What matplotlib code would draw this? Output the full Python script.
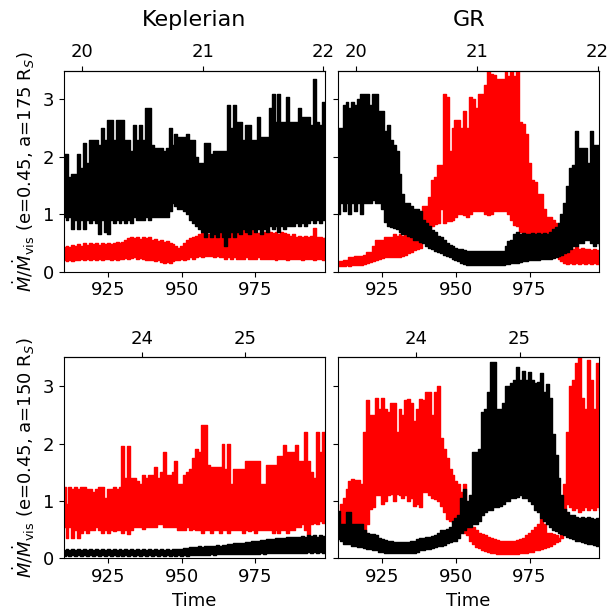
import numpy as np
import matplotlib
matplotlib.use('Agg')
import matplotlib.pyplot as plt

plt.rcParams['font.size'] = 13

# time grid of the samples (one lo/hi pair per unit)
time = np.arange(910, 1000)

# orbit number on the top axis: n0 + (t - t0) / period
orbit_175 = (20, 916.1, 41.0)
orbit_150 = (24, 936.5, 35.1)

# ---------------- Keplerian, a=175 ----------------
kep175_black_hi = [2.05, 2.05, 1.65, 1.7, 1.7, 2.05, 1.8, 2.25, 1.9, 2.3,
                   2.3, 2.3, 2.2, 2.5, 2.3, 2.65, 2.65, 2.3, 2.65, 2.65,
                   2.65, 2.3, 2.3, 2.1, 2.55, 2.3, 2.55, 2.3, 2.85, 2.85,
                   2.2, 2.15, 2.15, 2.15, 2.1, 2.15, 2.5, 2.2, 2.4, 2.35,
                   2.35, 2.35, 2.4, 2.3, 2.3, 2.0, 1.9, 1.9, 2.25, 2.25,
                   2.05, 2.1, 2.1, 2.1, 2.1, 2.1, 2.9, 2.5, 2.9, 2.6,
                   2.6, 2.3, 2.55, 2.55, 2.3, 2.3, 2.7, 2.35, 2.35, 2.35,
                   2.85, 3.1, 2.6, 3.1, 2.6, 2.6, 3.05, 2.6, 2.6, 2.6,
                   2.85, 2.7, 2.7, 2.7, 2.55, 3.35, 2.6, 2.55, 2.95, 2.95]
kep175_black_lo = [0.95, 0.9, 0.95, 0.75, 0.9, 0.75, 0.9, 0.75, 0.9, 0.85,
                   0.9, 0.85, 0.65, 0.9, 0.7, 0.65, 0.9, 0.85, 0.9, 0.85,
                   0.9, 0.85, 0.9, 0.85, 0.95, 0.9, 0.9, 0.9, 0.95, 0.9,
                   0.95, 0.95, 0.95, 0.95, 0.95, 0.95, 1.05, 1.2, 1.15, 1.1,
                   1.1, 1.05, 1.0, 0.9, 0.85, 0.8, 0.75, 0.7, 0.6, 0.7,
                   0.6, 0.65, 0.6, 0.7, 0.6, 0.45, 0.6, 0.7, 0.6, 0.7,
                   0.65, 0.75, 0.7, 0.65, 0.75, 0.7, 0.75, 0.65, 0.75, 0.7,
                   0.8, 0.75, 0.8, 0.7, 0.8, 0.75, 0.8, 0.8, 0.8, 0.85,
                   0.8, 0.85, 0.8, 0.85, 0.9, 0.85, 0.9, 0.85, 0.9, 0.9]
kep175_red_hi = [0.43, 0.45, 0.43, 0.47, 0.45, 0.48, 0.45, 0.5, 0.47, 0.5,
                 0.48, 0.5, 0.47, 0.5, 0.48, 0.5, 0.48, 0.5, 0.52, 0.5,
                 0.52, 0.55, 0.58, 0.6, 0.58, 0.6, 0.57, 0.6, 0.58, 0.6,
                 0.55, 0.57, 0.53, 0.55, 0.52, 0.53, 0.5, 0.48, 0.45, 0.42,
                 0.45, 0.5, 0.55, 0.58, 0.6, 0.62, 0.65, 0.67, 0.68, 0.66,
                 0.65, 0.68, 0.66, 0.7, 0.68, 0.7, 0.67, 0.7, 0.68, 0.72,
                 0.7, 0.72, 0.68, 0.7, 0.72, 0.7, 0.68, 0.72, 0.7, 0.72,
                 0.7, 0.68, 0.7, 0.65, 0.7, 0.68, 0.65, 0.62, 0.65, 0.6,
                 0.62, 0.6, 0.62, 0.6, 0.62, 0.77, 0.6, 0.6, 0.58, 0.6]
kep175_red_lo = [0.2, 0.18, 0.2, 0.18, 0.2, 0.2, 0.22, 0.2, 0.22, 0.2,
                 0.22, 0.2, 0.22, 0.2, 0.22, 0.22, 0.2, 0.22, 0.2, 0.22,
                 0.22, 0.24, 0.22, 0.24, 0.25, 0.22, 0.24, 0.22, 0.2, 0.2,
                 0.2, 0.18, 0.2, 0.17, 0.15, 0.17, 0.15, 0.18, 0.2, 0.2,
                 0.22, 0.2, 0.22, 0.25, 0.23, 0.25, 0.27, 0.25, 0.27, 0.28,
                 0.28, 0.25, 0.27, 0.25, 0.25, 0.23, 0.25, 0.23, 0.25, 0.22,
                 0.23, 0.22, 0.25, 0.22, 0.23, 0.22, 0.25, 0.22, 0.23, 0.22,
                 0.22, 0.23, 0.2, 0.22, 0.23, 0.22, 0.2, 0.22, 0.23, 0.22,
                 0.22, 0.2, 0.22, 0.23, 0.22, 0.2, 0.22, 0.22, 0.2, 0.22]

# ---------------- GR, a=175 ----------------
gr175_black_hi = [2.5, 2.5, 2.9, 2.95, 2.85, 2.95, 2.9, 3.0, 3.1, 3.1,
                  3.1, 2.9, 3.1, 3.1, 2.8, 2.8, 2.45, 2.55, 2.3, 2.2,
                  2.1, 1.7, 1.35, 1.2, 1.2, 1.15, 1.1, 1.1, 1.05, 0.9,
                  0.85, 0.8, 0.72, 0.7, 0.62, 0.6, 0.55, 0.5, 0.47, 0.45,
                  0.42, 0.4, 0.4, 0.38, 0.37, 0.36, 0.37, 0.36, 0.37, 0.36,
                  0.37, 0.36, 0.37, 0.36, 0.37, 0.36, 0.37, 0.45, 0.53, 0.55,
                  0.65, 0.7, 0.65, 0.68, 0.65, 0.65, 0.68, 0.65, 0.68, 0.65,
                  0.68, 0.65, 0.7, 0.75, 0.78, 0.85, 1.0, 1.2, 1.5, 1.8,
                  1.85, 2.45, 2.15, 2.15, 2.15, 1.9, 2.45, 2.2, 2.2, 2.0]
gr175_black_lo = [1.0, 1.2, 1.05, 1.2, 1.0, 1.2, 1.05, 1.2, 1.0, 1.2,
                  1.2, 1.2, 1.25, 1.2, 1.2, 1.1, 0.87, 0.8, 0.78, 0.76,
                  0.75, 0.7, 0.65, 0.65, 0.62, 0.6, 0.55, 0.55, 0.52, 0.5,
                  0.45, 0.42, 0.4, 0.37, 0.35, 0.33, 0.3, 0.27, 0.25, 0.22,
                  0.2, 0.18, 0.16, 0.14, 0.12, 0.12, 0.12, 0.12, 0.12, 0.12,
                  0.12, 0.12, 0.12, 0.12, 0.12, 0.12, 0.12, 0.13, 0.14, 0.15,
                  0.15, 0.16, 0.17, 0.18, 0.18, 0.2, 0.2, 0.2, 0.2, 0.22,
                  0.22, 0.22, 0.22, 0.24, 0.25, 0.28, 0.3, 0.32, 0.35, 0.4,
                  0.45, 0.45, 0.5, 0.5, 0.55, 0.55, 0.5, 0.45, 0.5, 0.45]
gr175_red_hi = [0.18, 0.18, 0.2, 0.2, 0.25, 0.26, 0.27, 0.27, 0.28, 0.3,
                0.35, 0.35, 0.45, 0.55, 0.55, 0.55, 0.6, 0.6, 0.6, 0.65,
                0.62, 0.65, 0.62, 0.65, 0.62, 0.6, 0.58, 0.55, 0.5, 1.15,
                1.15, 1.3, 1.6, 1.65, 1.85, 1.85, 3.1, 3.05, 2.1, 2.5,
                2.65, 2.65, 2.5, 2.8, 2.5, 3.05, 3.0, 2.85, 3.1, 3.1,
                3.25, 3.5, 3.45, 3.43, 3.36, 3.36, 3.36, 3.5, 3.4, 3.5,
                3.4, 3.5, 2.6, 2.58, 2.4, 1.9, 1.6, 1.57, 1.36, 1.36,
                1.1, 0.96, 0.95, 0.9, 0.85, 0.65, 0.5, 0.45, 0.47, 0.45,
                0.4, 0.45, 0.4, 0.42, 0.4, 0.4, 0.38, 0.4, 0.38, 0.37]
gr175_red_lo = [0.1, 0.1, 0.1, 0.12, 0.1, 0.12, 0.12, 0.12, 0.12, 0.14,
                0.15, 0.17, 0.18, 0.2, 0.22, 0.24, 0.26, 0.26, 0.26, 0.26,
                0.26, 0.26, 0.28, 0.3, 0.32, 0.35, 0.38, 0.4, 0.42, 0.55,
                0.7, 0.75, 0.8, 0.83, 0.85, 1.1, 0.85, 0.88, 0.88, 0.9,
                0.95, 1.0, 1.0, 0.98, 0.96, 1.0, 1.05, 1.05, 1.05, 1.05,
                1.0, 0.98, 1.0, 1.05, 1.05, 1.05, 1.05, 1.05, 1.0, 0.9,
                0.82, 0.8, 0.7, 0.65, 0.6, 0.6, 0.55, 0.55, 0.5, 0.5,
                0.5, 0.45, 0.4, 0.35, 0.3, 0.22, 0.18, 0.15, 0.14, 0.15,
                0.14, 0.15, 0.14, 0.15, 0.14, 0.15, 0.14, 0.15, 0.14, 0.15]

# ---------------- Keplerian, a=150 ----------------
kep150_black_hi = [0.15, 0.17, 0.15, 0.16, 0.15, 0.17, 0.15, 0.16, 0.15, 0.17,
                   0.15, 0.16, 0.15, 0.17, 0.15, 0.16, 0.15, 0.17, 0.15, 0.16,
                   0.15, 0.17, 0.15, 0.16, 0.15, 0.17, 0.15, 0.16, 0.15, 0.17,
                   0.15, 0.16, 0.15, 0.17, 0.15, 0.16, 0.15, 0.17, 0.16, 0.17,
                   0.17, 0.18, 0.18, 0.2, 0.2, 0.2, 0.21, 0.2, 0.22, 0.21,
                   0.22, 0.22, 0.23, 0.22, 0.24, 0.24, 0.25, 0.25, 0.26, 0.26,
                   0.27, 0.27, 0.28, 0.28, 0.3, 0.3, 0.31, 0.32, 0.32, 0.33,
                   0.33, 0.34, 0.35, 0.35, 0.36, 0.36, 0.37, 0.37, 0.38, 0.38,
                   0.38, 0.39, 0.38, 0.4, 0.39, 0.4, 0.38, 0.4, 0.39, 0.38]
kep150_black_lo = [0.05, 0.06, 0.05, 0.06, 0.05, 0.06, 0.05, 0.06, 0.05, 0.06,
                   0.05, 0.06, 0.05, 0.06, 0.05, 0.06, 0.05, 0.06, 0.05, 0.06,
                   0.05, 0.06, 0.05, 0.06, 0.05, 0.06, 0.05, 0.06, 0.05, 0.06,
                   0.05, 0.06, 0.05, 0.06, 0.05, 0.06, 0.05, 0.06, 0.05, 0.06,
                   0.05, 0.06, 0.05, 0.06, 0.06, 0.06, 0.06, 0.06, 0.06, 0.06,
                   0.07, 0.06, 0.07, 0.07, 0.07, 0.07, 0.07, 0.07, 0.07, 0.08,
                   0.07, 0.08, 0.08, 0.08, 0.08, 0.08, 0.08, 0.09, 0.08, 0.09,
                   0.09, 0.09, 0.09, 0.1, 0.09, 0.1, 0.1, 0.1, 0.1, 0.1,
                   0.1, 0.1, 0.1, 0.11, 0.1, 0.11, 0.1, 0.11, 0.1, 0.1]
kep150_red_hi = [1.25, 0.95, 1.25, 1.2, 1.25, 1.2, 1.25, 1.25, 1.2, 1.2,
                 1.15, 1.2, 1.25, 1.25, 1.05, 1.2, 1.2, 1.25, 1.2, 1.25,
                 1.95, 1.4, 1.95, 1.4, 1.4, 1.35, 1.3, 1.45, 1.4, 1.45,
                 1.45, 1.6, 1.4, 1.5, 1.85, 1.45, 1.45, 1.5, 1.7, 1.3,
                 1.3, 1.45, 1.5, 1.56, 1.75, 1.9, 1.85, 2.32, 2.32, 1.62,
                 1.6, 1.6, 1.6, 1.6, 2.0, 1.55, 2.0, 1.3, 1.55, 1.55,
                 1.55, 1.55, 1.7, 1.7, 1.7, 1.7, 1.7, 1.3, 1.3, 1.62,
                 1.62, 1.62, 1.62, 1.79, 1.79, 1.97, 1.85, 1.85, 1.85, 1.97,
                 1.7, 1.7, 2.2, 1.7, 1.5, 1.4, 2.2, 1.85, 2.2, 2.2]
kep150_red_lo = [0.55, 0.35, 0.55, 0.35, 0.5, 0.35, 0.45, 0.5, 0.45, 0.5,
                 0.5, 0.55, 0.5, 0.45, 0.5, 0.45, 0.5, 0.48, 0.5, 0.5,
                 0.45, 0.5, 0.42, 0.5, 0.55, 0.55, 0.55, 0.52, 0.55, 0.55,
                 0.55, 0.55, 0.6, 0.6, 0.55, 0.55, 0.55, 0.55, 0.55, 0.5,
                 0.5, 0.5, 0.55, 0.5, 0.52, 0.5, 0.5, 0.45, 0.5, 0.5,
                 0.45, 0.5, 0.5, 0.45, 0.5, 0.5, 0.45, 0.5, 0.5, 0.5,
                 0.5, 0.45, 0.5, 0.48, 0.5, 0.45, 0.5, 0.5, 0.5, 0.5,
                 0.5, 0.45, 0.5, 0.45, 0.5, 0.5, 0.45, 0.5, 0.5, 0.55,
                 0.55, 0.6, 0.5, 0.4, 0.6, 0.62, 0.6, 0.65, 0.62, 0.65]

# ---------------- GR, a=150 ----------------
gr150_black_hi = [0.82, 0.6, 0.6, 0.8, 0.8, 0.6, 0.6, 0.6, 0.6, 0.5,
                  0.45, 0.43, 0.43, 0.4, 0.35, 0.33, 0.32, 0.3, 0.3, 0.28,
                  0.28, 0.28, 0.28, 0.28, 0.28, 0.3, 0.3, 0.33, 0.35, 0.35,
                  0.37, 0.38, 0.39, 0.4, 0.45, 0.5, 0.5, 0.52, 0.55, 0.65,
                  0.7, 0.75, 1.05, 1.2, 1.0, 1.1, 1.85, 1.85, 1.9, 2.55,
                  2.6, 2.9, 3.42, 3.42, 2.6, 2.6, 2.7, 3.0, 3.0, 3.05,
                  3.1, 3.33, 3.1, 3.27, 3.1, 3.25, 3.1, 3.05, 3.07, 3.22,
                  2.9, 3.04, 2.8, 2.17, 1.8, 1.4, 1.1, 0.86, 0.8, 0.75,
                  0.75, 0.72, 0.7, 0.72, 0.7, 0.72, 0.7, 0.68, 0.7, 0.65]
gr150_black_lo = [0.34, 0.3, 0.25, 0.25, 0.25, 0.22, 0.22, 0.2, 0.2, 0.18,
                  0.16, 0.16, 0.14, 0.14, 0.12, 0.12, 0.1, 0.1, 0.1, 0.1,
                  0.1, 0.1, 0.1, 0.1, 0.1, 0.1, 0.1, 0.12, 0.14, 0.15,
                  0.16, 0.16, 0.18, 0.2, 0.22, 0.22, 0.24, 0.26, 0.28, 0.3,
                  0.3, 0.35, 0.45, 0.5, 0.55, 0.55, 0.6, 0.6, 0.65, 0.75,
                  0.8, 0.85, 0.85, 0.9, 0.9, 0.92, 0.95, 1.0, 1.0, 1.05,
                  1.05, 1.07, 1.1, 1.05, 1.05, 1.0, 0.95, 0.85, 0.8, 0.7,
                  0.65, 0.6, 0.55, 0.5, 0.47, 0.45, 0.42, 0.4, 0.38, 0.35,
                  0.33, 0.3, 0.3, 0.28, 0.27, 0.25, 0.25, 0.23, 0.22, 0.22]
gr150_red_hi = [0.75, 0.95, 1.05, 1.2, 1.35, 1.38, 1.36, 1.36, 1.3, 2.2,
                2.75, 2.5, 2.5, 2.8, 2.6, 2.8, 2.6, 2.55, 2.7, 2.7,
                2.2, 2.6, 2.5, 2.75, 2.78, 2.7, 2.4, 2.6, 2.78, 2.75,
                2.9, 2.9, 2.5, 2.9, 3.0, 2.1, 1.9, 1.75, 1.55, 1.45,
                1.35, 1.3, 1.15, 1.3, 0.8, 0.55, 0.55, 0.5, 0.45, 0.42,
                0.4, 0.38, 0.35, 0.33, 0.32, 0.3, 0.3, 0.3, 0.3, 0.3,
                0.3, 0.32, 0.33, 0.35, 0.4, 0.45, 0.5, 0.55, 0.6, 0.68,
                0.6, 0.45, 0.45, 0.42, 0.4, 0.35, 0.35, 1.3, 2.2, 3.0,
                3.1, 3.4, 3.5, 2.8, 2.6, 3.45, 3.1, 2.6, 3.4, 3.3]
gr150_red_lo = [0.6, 0.55, 0.6, 0.55, 0.6, 0.55, 0.6, 0.55, 0.55, 0.45,
                0.6, 0.86, 0.9, 1.1, 1.1, 0.95, 1.0, 1.1, 1.12, 1.0,
                1.12, 1.1, 1.05, 1.1, 1.0, 1.05, 0.92, 0.95, 0.9, 1.15,
                1.15, 1.1, 1.05, 1.04, 1.0, 0.92, 0.8, 0.69, 0.65, 0.63,
                0.6, 0.55, 0.5, 0.45, 0.4, 0.3, 0.25, 0.2, 0.18, 0.15,
                0.13, 0.12, 0.1, 0.1, 0.08, 0.08, 0.08, 0.08, 0.08, 0.08,
                0.08, 0.08, 0.09, 0.1, 0.1, 0.12, 0.12, 0.14, 0.15, 0.17,
                0.18, 0.2, 0.22, 0.25, 0.28, 0.3, 0.4, 0.8, 0.95, 0.9,
                0.85, 0.88, 0.8, 0.85, 0.9, 0.85, 0.88, 0.85, 0.9, 0.85]


def band(ax, lo, hi, color):
    # the signal oscillates faster than a pixel, so draw its envelope as a
    # solid band with an edge of the same colour
    ax.fill_between(time, lo, hi, step='mid', color=color, lw=1.0,
                    edgecolor=color)


def orbit_axis(ax, orbit, ticks):
    n0, t0, per = orbit
    sec = ax.secondary_xaxis('top', functions=(lambda t: n0 + (t - t0) / per,
                                               lambda n: t0 + (n - n0) * per))
    sec.set_xticks(ticks)


panels = [
    (kep175_red_lo, kep175_red_hi, kep175_black_lo, kep175_black_hi, orbit_175, [20, 21, 22]),
    (gr175_red_lo, gr175_red_hi, gr175_black_lo, gr175_black_hi, orbit_175, [20, 21, 22]),
    (kep150_red_lo, kep150_red_hi, kep150_black_lo, kep150_black_hi, orbit_150, [24, 25]),
    (gr150_red_lo, gr150_red_hi, gr150_black_lo, gr150_black_hi, orbit_150, [24, 25]),
]

fig, axes = plt.subplots(2, 2, figsize=(6.1, 6.15), dpi=100, sharey=True)
plt.subplots_adjust(left=0.105, right=0.982, bottom=0.092, top=0.885,
                    wspace=0.051, hspace=0.426)

for ax, (rlo, rhi, blo, bhi, orbit, ticks) in zip(axes.flat, panels):
    band(ax, rlo, rhi, 'red')
    band(ax, blo, bhi, 'black')
    ax.set_xlim(910, 998.6)
    ax.set_ylim(0, 3.5)
    ax.set_xticks([925, 950, 975])
    ax.set_yticks([0, 1, 2, 3])
    orbit_axis(ax, orbit, ticks)

axes[0, 0].set_title('Keplerian', fontsize=16, pad=12)
axes[0, 1].set_title('GR', fontsize=16, pad=12)
axes[0, 0].set_ylabel(r'$\dot{M}/\dot{M}_{\rm vis}$ (e=0.45, a=175 R$_S$)')
axes[1, 0].set_ylabel(r'$\dot{M}/\dot{M}_{\rm vis}$ (e=0.45, a=150 R$_S$)')
axes[1, 0].set_xlabel('Time')
axes[1, 1].set_xlabel('Time')

plt.savefig('out.png')
